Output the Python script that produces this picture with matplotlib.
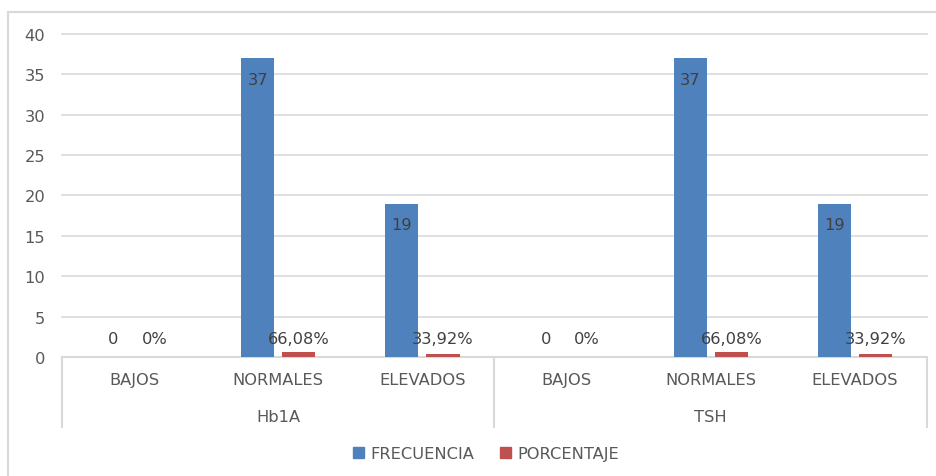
import numpy as np
import matplotlib.pyplot as plt
from matplotlib.patches import Rectangle
from matplotlib.transforms import blended_transform_factory

# Datos
categorias = ["BAJOS", "NORMALES", "ELEVADOS", "BAJOS", "NORMALES", "ELEVADOS"]
grupos = ["Hb1A", "TSH"]
frecuencia = [0, 37, 19, 0, 37, 19]
porcentaje = [0, 0.6608, 0.3392, 0, 0.6608, 0.3392]

azul = "#4F81BD"
rojo = "#C0504D"
gris_txt = "#595959"
gris_lin = "#D9D9D9"
fs = 11.7

plt.rcParams["font.family"] = "DejaVu Sans"

fig = plt.figure(figsize=(9.36, 4.77), dpi=100)
ax = fig.add_axes([62 / 936, 1 - 358 / 477, 865 / 936, 323 / 477])

x = np.arange(len(categorias))
ancho = 0.23
desp = 0.143
ax.bar(x - desp, frecuencia, ancho, color=azul, zorder=3)
ax.bar(x + desp, porcentaje, ancho, color=rojo, zorder=3)

ax.set_xlim(-0.5, len(categorias) - 0.5)
ax.set_ylim(0, 40)
ax.set_yticks(range(0, 41, 5))
ax.yaxis.grid(True, color=gris_lin, linewidth=1.2)
for gl in ax.get_ygridlines():
    gl.set_clip_on(False)
ax.set_axisbelow(True)
for lado in ["top", "right", "left"]:
    ax.spines[lado].set_visible(False)
ax.spines["bottom"].set_color(gris_lin)
ax.spines["bottom"].set_linewidth(1.5)
ax.tick_params(axis="y", length=0, pad=12, labelsize=fs, labelcolor=gris_txt)
ax.set_xticks(x)
ax.set_xticklabels(categorias)
ax.tick_params(axis="x", length=0, pad=11, labelsize=fs, labelcolor=gris_txt)

# Etiquetas de datos
for xi, v in zip(x, frecuencia):
    if v > 0:
        ax.annotate(str(v), (xi - desp, v), xytext=(0, -15), textcoords="offset points",
                    ha="center", va="center", fontsize=fs, color="#404040")
    else:
        ax.annotate(str(v), (xi - desp, v), xytext=(0, 13.5), textcoords="offset points",
                    ha="center", va="center", fontsize=fs, color="#404040")
for xi, v in zip(x, porcentaje):
    txt = f"{v * 100:.2f}".replace(".", ",").replace(",00", "") + "%"
    ax.annotate(txt, (xi + desp, 0), xytext=(0, 13.5), textcoords="offset points",
                ha="center", va="center", fontsize=fs, color="#404040")

# Eje de categorias en dos niveles
tr = blended_transform_factory(ax.transData, ax.transAxes)
for sep in [-0.5, 2.5, 5.5]:
    ax.plot([sep, sep], [0, -70 / 323], transform=tr, color=gris_lin,
            linewidth=1.5, clip_on=False)
for i, g in enumerate(grupos):
    ax.text(i * 3 + 1, -60 / 323, g, transform=tr, ha="center", va="center",
            fontsize=fs, color=gris_txt)

# Leyenda
h1 = Rectangle((0, 0), 1, 1, color=azul)
h2 = Rectangle((0, 0), 1, 1, color=rojo)
fig.legend([h1, h2], ["FRECUENCIA", "PORCENTAJE"], loc="center",
           bbox_to_anchor=(486 / 936, 1 - 455 / 477), ncol=2, frameon=False,
           handlelength=0.65, handleheight=0.65, handletextpad=0.4, columnspacing=1.6,
           fontsize=fs, labelcolor=gris_txt)

# Borde del grafico
fig.patches.append(Rectangle((8 / 936, -0.1), 1.2, 1.1 - 13 / 477, transform=fig.transFigure,
                             fill=False, edgecolor=gris_lin, linewidth=1.5))

fig.savefig("out.png", dpi=100)
